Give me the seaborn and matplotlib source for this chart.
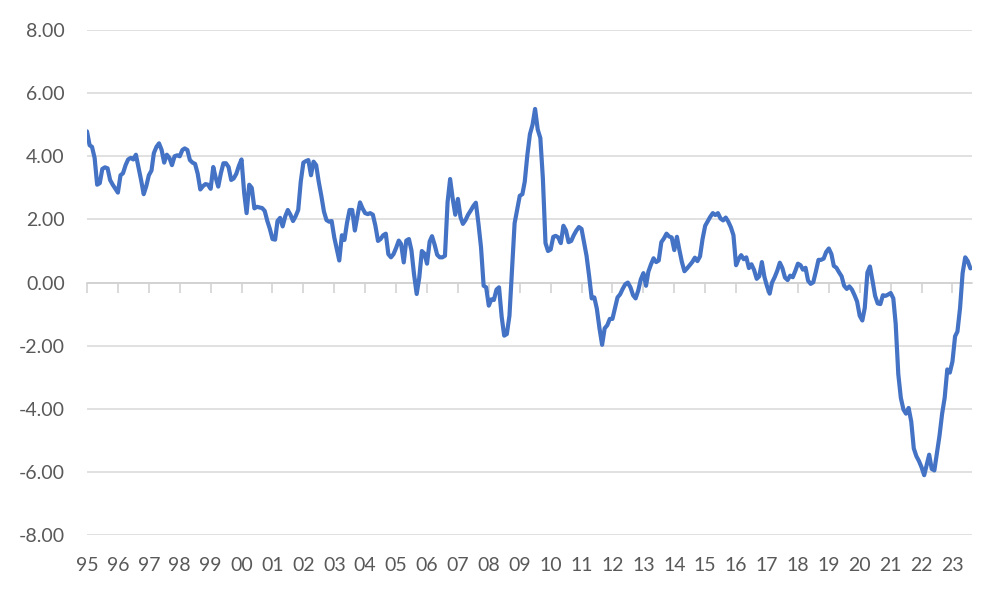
import pandas as pd
import matplotlib
matplotlib.use('Agg')
import matplotlib.pyplot as plt
import matplotlib.dates as mdates
import seaborn as sns

# monthly values, Jan 1995 .. Aug 2023
y1995 = [4.79, 4.35, 4.30, 3.95, 3.10, 3.15, 3.60, 3.65, 3.62, 3.25, 3.10, 2.98]
y1996 = [2.85, 3.40, 3.46, 3.72, 3.90, 3.95, 3.90, 4.05, 3.65, 3.25, 2.80, 3.05]
y1997 = [3.40, 3.55, 4.10, 4.30, 4.41, 4.20, 3.80, 4.05, 3.95, 3.72, 4.00, 4.03]
y1998 = [4.00, 4.20, 4.25, 4.20, 3.88, 3.80, 3.76, 3.45, 2.95, 3.05, 3.12, 3.10]
y1999 = [2.97, 3.66, 3.33, 3.04, 3.45, 3.78, 3.78, 3.66, 3.25, 3.30, 3.45, 3.70]
y2000 = [3.90, 2.85, 2.20, 3.10, 3.00, 2.35, 2.40, 2.38, 2.36, 2.27, 1.95, 1.70]
y2001 = [1.38, 1.36, 1.95, 2.05, 1.78, 2.10, 2.30, 2.15, 1.95, 2.10, 2.30, 3.20]
y2002 = [3.80, 3.85, 3.88, 3.40, 3.83, 3.72, 3.20, 2.75, 2.25, 1.98, 1.93, 1.95]
y2003 = [1.43, 1.05, 0.70, 1.50, 1.35, 1.90, 2.30, 2.30, 1.65, 2.10, 2.54, 2.35]
y2004 = [2.20, 2.17, 2.20, 2.15, 1.80, 1.32, 1.38, 1.50, 1.55, 0.90, 0.80, 0.90]
y2005 = [1.10, 1.33, 1.22, 0.64, 1.33, 1.38, 1.02, 0.25, -0.36, 0.15, 1.00, 0.92]
y2006 = [0.60, 1.30, 1.47, 1.20, 0.88, 0.80, 0.80, 0.85, 2.55, 3.28, 2.65, 2.15]
y2007 = [2.65, 2.07, 1.86, 1.98, 2.15, 2.28, 2.42, 2.53, 1.86, 1.12, -0.10, -0.15]
y2008 = [-0.73, -0.53, -0.55, -0.22, -0.15, -1.08, -1.68, -1.63, -1.05, 0.38, 1.88, 2.30]
y2009 = [2.75, 2.80, 3.20, 4.05, 4.70, 5.00, 5.50, 4.85, 4.58, 3.30, 1.25, 1.00]
y2010 = [1.05, 1.45, 1.48, 1.43, 1.25, 1.80, 1.65, 1.28, 1.32, 1.50, 1.65, 1.76]
y2011 = [1.70, 1.25, 0.85, 0.20, -0.50, -0.47, -0.83, -1.45, -1.97, -1.45, -1.35, -1.15]
y2012 = [-1.15, -0.80, -0.47, -0.37, -0.20, -0.05, 0.00, -0.15, -0.40, -0.50, -0.25, 0.10]
y2013 = [0.30, -0.10, 0.35, 0.58, 0.77, 0.65, 0.70, 1.28, 1.40, 1.55, 1.46, 1.43]
y2014 = [1.03, 1.45, 1.05, 0.65, 0.36, 0.45, 0.55, 0.65, 0.79, 0.68, 0.83, 1.38]
y2015 = [1.80, 1.95, 2.08, 2.20, 2.14, 2.20, 2.03, 1.97, 2.06, 1.93, 1.75, 1.50]
y2016 = [0.55, 0.75, 0.87, 0.74, 0.80, 0.46, 0.58, 0.40, 0.12, 0.20, 0.65, 0.18]
y2017 = [-0.12, -0.35, 0.00, 0.17, 0.37, 0.63, 0.46, 0.16, 0.08, 0.22, 0.17, 0.37]
y2018 = [0.60, 0.55, 0.41, 0.47, 0.06, -0.04, 0.01, 0.35, 0.72, 0.72, 0.76, 0.97]
y2019 = [1.08, 0.90, 0.53, 0.47, 0.33, 0.20, -0.10, -0.20, -0.12, -0.22, -0.40, -0.60]
y2020 = [-1.05, -1.20, -0.80, 0.32, 0.51, 0.05, -0.42, -0.66, -0.68, -0.40, -0.42, -0.38]
y2021 = [-0.33, -0.50, -1.30, -2.90, -3.65, -4.02, -4.15, -3.97, -4.40, -5.25, -5.50, -5.65]
y2022 = [-5.85, -6.10, -5.79, -5.45, -5.90, -5.95, -5.40, -4.85, -4.15, -3.65, -2.75, -2.85]
y2023 = [-2.50, -1.70, -1.55, -0.80, 0.30, 0.80, 0.68, 0.45]

values = (y1995 + y1996 + y1997 + y1998 + y1999 + y2000 + y2001 + y2002 + y2003
          + y2004 + y2005 + y2006 + y2007 + y2008 + y2009 + y2010 + y2011 + y2012
          + y2013 + y2014 + y2015 + y2016 + y2017 + y2018 + y2019 + y2020 + y2021
          + y2022 + y2023)

y_ticks = [-8, -6, -4, -2, 0, 2, 4, 6, 8]

df = pd.DataFrame({
    'Date': pd.date_range('1995-01-01', periods=len(values), freq='MS'),
    'Value': values,
})

sns.set_style('white')
plt.rcParams['font.family'] = ['Lato', 'DejaVu Sans']

grey_text = '#595959'
grid_col = '#D9D9D9'

fig = plt.figure(figsize=(10, 6), dpi=100)
ax = fig.add_axes([0.087, 0.108, 0.885, 0.842])

sns.lineplot(data=df, x='Date', y='Value', ax=ax, color='#4472C4',
             linewidth=3.0, solid_joinstyle='round', solid_capstyle='round',
             zorder=3)

ax.set_ylim(-8, 8)
ax.set_yticks(y_ticks)
ax.yaxis.set_major_formatter(plt.FuncFormatter(lambda v, p: f'{v:.2f}'))
ax.grid(axis='y', color=grid_col, linewidth=1.1)
ax.set_axisbelow(True)
ax.set_xlim(pd.Timestamp('1995-01-01'), pd.Timestamp('2023-08-20'))

for s in ['top', 'right', 'left']:
    ax.spines[s].set_visible(False)
# axis line with year ticks sits on the zero level
ax.spines['bottom'].set_position(('data', 0))
ax.spines['bottom'].set_color('#CFCFCF')
ax.spines['bottom'].set_linewidth(1.1)
ax.xaxis.set_major_locator(mdates.YearLocator())
ax.tick_params(axis='x', bottom=True, direction='out', length=7, width=1.1,
               color='#CFCFCF', labelbottom=False)
ax.tick_params(axis='y', left=False, length=0, pad=16, labelsize=14,
               labelcolor=grey_text)

# year labels below the plot area
sec = ax.secondary_xaxis('bottom')
sec.xaxis.set_major_locator(mdates.YearLocator())
sec.xaxis.set_major_formatter(mdates.DateFormatter('%y'))
sec.tick_params(axis='x', length=0, pad=16, labelsize=14, labelcolor=grey_text)
sec.spines['bottom'].set_visible(False)

ax.set_xlabel('')
ax.set_ylabel('')

fig.savefig('out.png', dpi=100)
